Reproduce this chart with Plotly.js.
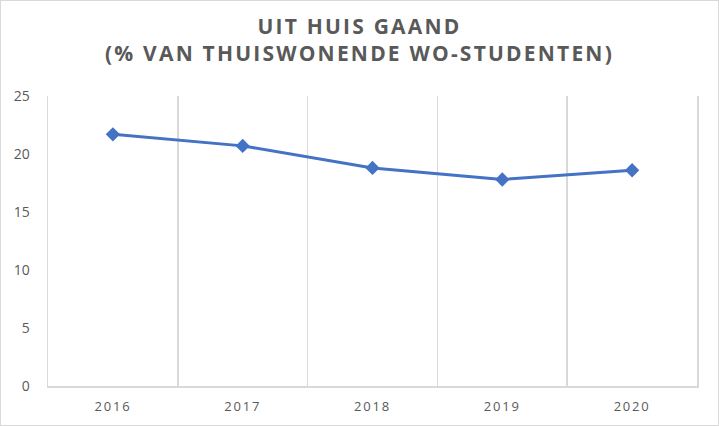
<!DOCTYPE html>
<html>
<head>
<meta charset="utf-8">
<script src="https://cdn.plot.ly/plotly-3.0.1.min.js"></script>
<style>
html,body{margin:0;padding:0;background:#fff;}
#chart{width:717px;height:424px;border:1px solid #d9d9d9;}
.gtitle{letter-spacing:2.2px;}
.xtick text{letter-spacing:1.8px;}
</style>
</head>
<body>
<div id="chart"></div>
<script>
const years = ["2016", "2017", "2018", "2019", "2020"];
const values = [21.7, 20.7, 18.8, 17.8, 18.6];
const titleLines = ["UIT HUIS GAAND", "(% VAN THUISWONENDE WO-STUDENTEN)"];

const trace = {
  x: years,
  y: values,
  type: "scatter",
  mode: "lines+markers",
  line: {color: "#4472C4", width: 3},
  marker: {symbol: "diamond", size: 11, color: "#4472C4"},
  hoverinfo: "x+y"
};

const layout = {
  width: 717,
  height: 424,
  margin: {l: 47, r: 21, t: 95, b: 39},
  paper_bgcolor: "#ffffff",
  plot_bgcolor: "#ffffff",
  showlegend: false,
  title: {
    text: titleLines.join("<br>"),
    font: {family: "Open Sans, sans-serif", size: 21, color: "#595959", weight: "bold"},
    x: 0.5, xanchor: "center",
    y: 0.922, yanchor: "top"
  },
  xaxis: {
    type: "category",
    range: [-0.5, 4.5],
    tickson: "boundaries",
    showgrid: true,
    gridcolor: "#d9d9d9",
    gridwidth: 1.5,
    showline: true,
    linecolor: "#d9d9d9",
    linewidth: 1.5,
    ticks: "",
    tickfont: {family: "Open Sans, sans-serif", size: 13, color: "#595959"},
    ticklabelstandoff: 8,
    zeroline: false,
    fixedrange: true
  },
  yaxis: {
    range: [0, 25],
    dtick: 5,
    showgrid: false,
    showline: true,
    mirror: true,
    linecolor: "#d9d9d9",
    linewidth: 1.5,
    zeroline: false,
    ticks: "",
    tickfont: {family: "Open Sans, sans-serif", size: 14, color: "#595959"},
    ticklabelstandoff: 14,
    fixedrange: true
  }
};

Plotly.newPlot("chart", [trace], layout, {displayModeBar: false, staticPlot: true});
</script>
</body>
</html>
